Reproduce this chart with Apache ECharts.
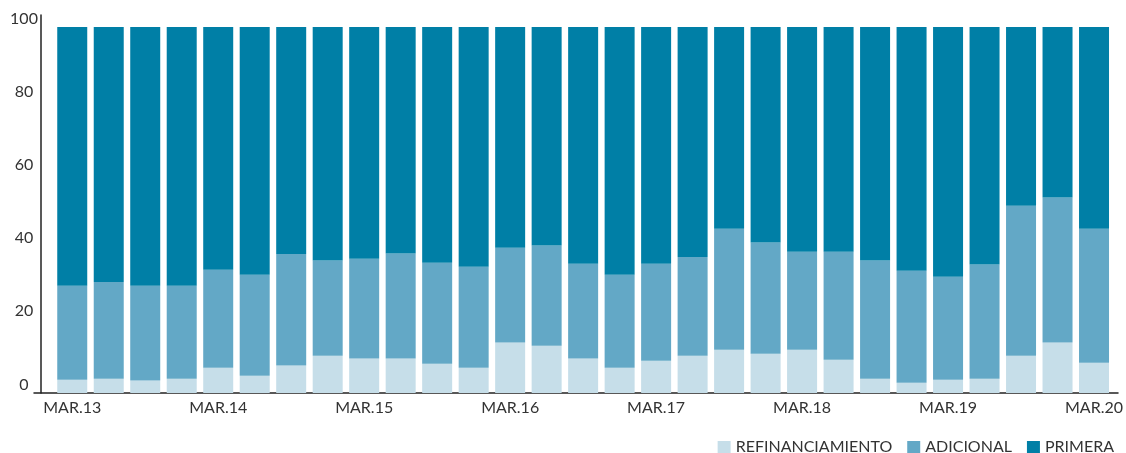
<!DOCTYPE html>
<html>
<head>
<meta charset="utf-8">
<script src="https://cdn.jsdelivr.net/npm/echarts@6/dist/echarts.min.js"></script>
<style>html,body{margin:0;padding:0;background:#fff}#c{width:1126px;height:453px}</style>
</head>
<body>
<div id="c"></div>
<script>
const categories = ['MAR.13','JUN.13','SEP.13','DIC.13','MAR.14','JUN.14','SEP.14','DIC.14','MAR.15','JUN.15','SEP.15','DIC.15','MAR.16','JUN.16','SEP.16','DIC.16','MAR.17','JUN.17','SEP.17','DIC.17','MAR.18','JUN.18','SEP.18','DIC.18','MAR.19','JUN.19','SEP.19','DIC.19','MAR.20'];
const refinanciamiento = [3.6,3.9,3.4,3.9,6.9,4.7,7.5,10.2,9.4,9.4,8.0,6.9,13.8,12.9,9.4,6.9,8.8,10.2,11.8,10.7,11.8,9.1,3.9,2.8,3.6,3.9,10.2,13.8,8.3];
const adicional = [25.7,26.4,25.9,25.4,26.8,27.6,30.5,26.0,27.3,28.7,27.6,27.6,25.9,27.4,25.9,25.4,26.5,27.0,33.1,30.4,26.8,29.5,32.3,30.6,28.2,31.2,41.0,39.6,36.6];
const primera = [70.7,69.7,70.7,70.7,66.3,67.7,62.0,63.8,63.3,61.9,64.4,65.5,60.3,59.7,64.7,67.7,64.7,62.8,55.1,58.9,61.4,61.4,63.8,66.6,68.2,64.9,48.8,46.6,55.1];
const yTicks = [0,20,40,60,80,100];

const FONT = 'Lato';
const TXT = '#333333';
const chart = echarts.init(document.getElementById('c'), null, {renderer:'canvas'});
chart.setOption({
  animation:false,
  textStyle:{fontFamily:FONT},
  grid:[
    {left:54, right:11, top:15, bottom:60},
    {left:34, right:8, top:15, bottom:60}
  ],
  legend:{
    data:['REFINANCIAMIENTO','ADICIONAL','PRIMERA'],
    right:7, top:434, icon:'rect', itemWidth:13, itemHeight:12, itemGap:15,
    textStyle:{fontFamily:FONT, fontSize:16, color:TXT}
  },
  xAxis:[
    {type:'category', gridIndex:0, data:categories,
     axisLine:{show:false}, axisTick:{show:false},
     axisLabel:{interval:3, fontFamily:FONT, fontSize:16, color:TXT, margin:7}},
    {type:'value', gridIndex:1, min:0, max:1,
     axisLine:{show:true, lineStyle:{color:'#222', width:1.5}},
     axisTick:{show:false}, axisLabel:{show:false}, splitLine:{show:false}}
  ],
  yAxis:[
    {type:'value', gridIndex:0, min:0, max:103.3, interval:20, offset:13,
     axisLine:{show:true, lineStyle:{color:'#222', width:1.5}},
     axisTick:{show:false}, splitLine:{show:false},
     axisLabel:{fontFamily:FONT, fontSize:16, color:TXT, align:'center', verticalAlign:'bottom',
       lineHeight:17, margin:17,
       formatter:function(v){return yTicks.indexOf(v) >= 0 ? String(v) : '';}}},
    {type:'value', gridIndex:1, show:false}
  ],
  series:[
    {name:'REFINANCIAMIENTO', type:'bar', stack:'s', data:refinanciamiento, barWidth:30, itemStyle:{color:'#C6DEE9'}},
    {name:'ADICIONAL', type:'bar', stack:'s', data:adicional, barWidth:30, itemStyle:{color:'#63A8C6'}},
    {name:'PRIMERA', type:'bar', stack:'s', data:primera, barWidth:30, itemStyle:{color:'#007FA6'}}
  ]
});
</script>
</body>
</html>
